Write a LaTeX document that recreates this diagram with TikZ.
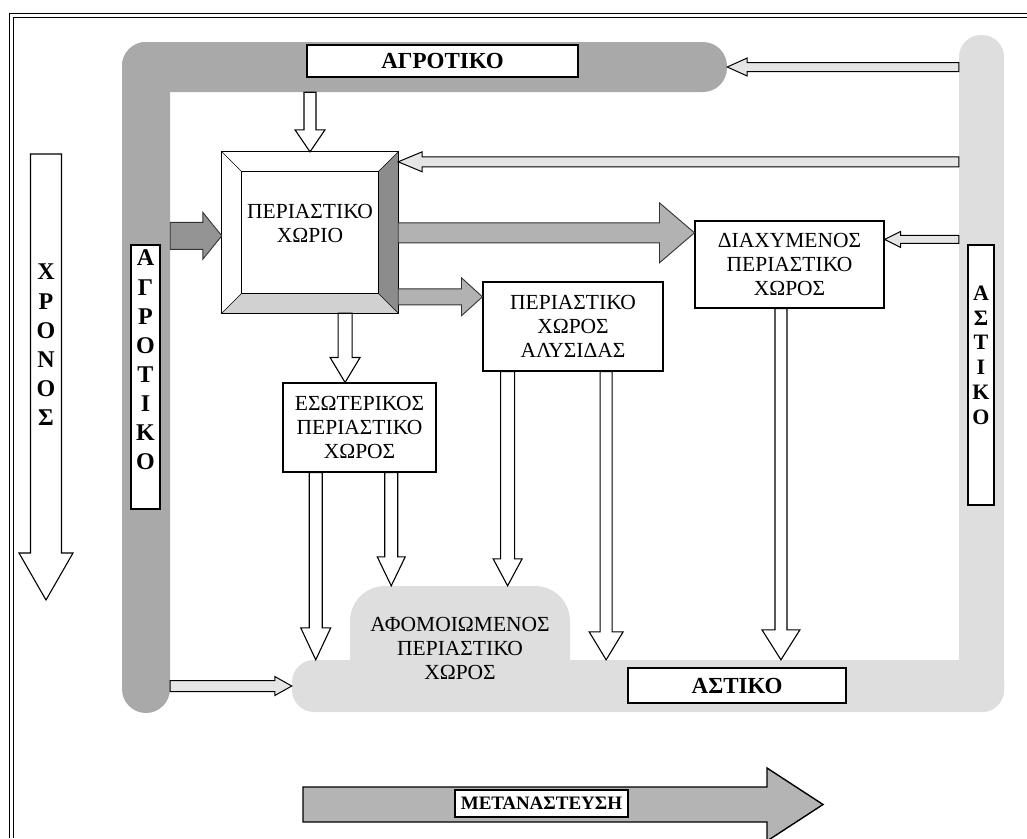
\documentclass[tikz,border=0pt]{standalone}
\usepackage{fontspec}
\setmainfont{Liberation Serif}
\usetikzlibrary{calc}
\definecolor{agrgray}{HTML}{A9A9A9}
\definecolor{astgray}{HTML}{DEDEDE}
\definecolor{arrgray}{HTML}{B4B4B4}
\newcommand{\boxfont}{\fontsize{21.5}{24}\selectfont}
\newcommand{\labfont}{\fontsize{23}{26}\selectfont\bfseries}
% block arrow: [style]{tail}{tip}{half shaft}{half head}{head length}
\newcommand{\blockarrow}[6][]{%
  \path (#2) coordinate (atail) (#3) coordinate (ahead);
  \path ($(ahead)!#6!(atail)$) coordinate (aneck);
  \draw[#1] ($(atail)!#4!90:(ahead)$) -- ($(aneck)!#4!90:(ahead)$) -- ($(aneck)!#5!90:(ahead)$)
    -- (ahead) -- ($(aneck)!#5!-90:(ahead)$) -- ($(aneck)!#4!-90:(ahead)$) -- ($(atail)!#4!-90:(ahead)$) -- cycle;}
\tikzset{
  box/.style={draw, fill=white, line width=1.1pt, inner sep=0pt, align=center, font=\boxfont},
  vletter/.style={font=\fontsize{24}{24}\selectfont\bfseries, inner sep=0pt},
  agrband/.style={fill=agrgray, rounded corners=24pt, inner sep=0pt},
  astband/.style={fill=astgray, rounded corners=22pt, inner sep=0pt},
  hollow/.style={draw, fill=white, line width=1.1pt},
  thickgray/.style={draw=black!80, fill=black!42, line width=0.9pt},
  thinarrow/.style={draw, fill=gray!20, line width=1pt},
  bigarrow/.style={draw, fill=arrgray, line width=1.4pt}
}
\begin{document}
\begin{tikzpicture}[x=1pt, y=-1pt]
\useasboundingbox (0,0) rectangle (1027,838);
\draw[line width=1pt] (9,838) -- (9,13) -- (1027,13);
\draw[line width=1pt] (13,838) -- (13,17) -- (1027,17);

% bands
\node[agrband, minimum width=605pt, minimum height=50pt] (agrbar) at (424.5,67) {};
\node[agrband, minimum width=48pt, minimum height=671pt] (agrleft) at (146,377.5) {};
\node[astband, minimum width=45pt, minimum height=677pt] (rbar) at (981.5,373.5) {};
\node[astband, minimum width=712pt, minimum height=52pt] (band) at (648,686) {};
\node[astband, rounded corners=35pt, minimum width=220pt, minimum height=124pt, font=\boxfont, align=center] (lobe) at (460,648) {ΑΦΟΜΟΙΩΜΕΝΟΣ\\ΠΕΡΙΑΣΤΙΚΟ\\ΧΩΡΟΣ};

\node[box, font=\labfont, minimum width=271pt, minimum height=32pt] (agrtop) at (442.5,61) {ΑΓΡΟΤΙΚΟ};
\node[box, font=\labfont, minimum width=218pt, minimum height=35pt] (astbot) at (737,685.5) {ΑΣΤΙΚΟ};
\node[box, minimum width=29pt, minimum height=264pt] (agrv) at (145.5,377) {};
\node[box, minimum width=26pt, minimum height=260pt] (astv) at (981,375) {};
\foreach \letr [count=\i from 0] in {Α,Γ,Ρ,Ο,Τ,Ι,Κ,Ο}
  \node[vletter] (agrl\i) at (145.5,{258+29.14*\i}) {\letr};
\foreach \letr [count=\i from 0] in {Α,Σ,Τ,Ι,Κ,Ο}
  \node[vletter, font=\fontsize{22}{22}\selectfont\bfseries] (astl\i) at (981,{293+24.8*\i}) {\letr};

% bevelled box
\node[fill=white, minimum width=176pt, minimum height=161pt, inner sep=0pt] (xorio) at (310,232.5) {};
\fill[black!45] (xorio.north east) -- (xorio.south east) -- ($(xorio.south east)+(-20,-20)$) -- ($(xorio.north east)+(-20,20)$) -- cycle;
\fill[black!18] (xorio.south east) -- (xorio.south west) -- ($(xorio.south west)+(20,-20)$) -- ($(xorio.south east)+(-20,-20)$) -- cycle;
\draw[line width=1.2pt] (xorio.north west) rectangle (xorio.south east);
\draw[line width=1pt] ($(xorio.north west)+(20,20)$) rectangle ($(xorio.south east)+(-20,-20)$);
\draw (xorio.north west) -- ++(20,20) (xorio.north east) -- ++(-20,20)
  (xorio.south west) -- ++(20,-20) (xorio.south east) -- ++(-20,-20);
\node[font=\boxfont, align=center] (xoriotxt) at ($(xorio)+(0,-9)$) {ΠΕΡΙΑΣΤΙΚΟ\\ΧΩΡΙΟ};

\node[box, minimum width=153pt, minimum height=89pt] (esot) at (359.5,427.5) {ΕΣΩΤΕΡΙΚΟΣ\\ΠΕΡΙΑΣΤΙΚΟ\\ΧΩΡΟΣ};
\node[box, minimum width=180pt, minimum height=89pt] (alys) at (573,326.5) {ΠΕΡΙΑΣΤΙΚΟ\\ΧΩΡΟΣ\\ΑΛΥΣΙΔΑΣ};
\node[box, minimum width=189pt, minimum height=87pt] (diax) at (789.5,264.5) {ΔΙΑΧΥΜΕΝΟΣ\\ΠΕΡΙΑΣΤΙΚΟ\\ΧΩΡΟΣ};

% free ends
\coordinate (rb2) at ($(rbar.west |- xorio.north)+(0,10)$);
\coordinate (rb3) at ($(rbar.west |- diax.north)+(0,19)$);
\coordinate (lb1) at ($(agrleft.east |- xorio.north)+(0,84)$);
\coordinate (lb2) at (agrleft.east |- band.west);
\coordinate (g1) at ($(xorio.north east)+(0,81)$);
\coordinate (g2) at ($(xorio.north east)+(0,145)$);
\coordinate (xo1) at ($(xorio.south west)!0.699!(xorio.south east)$);
\coordinate (e1) at ($(esot.south west)!0.216!(esot.south east)$);
\coordinate (e2) at ($(esot.south west)!0.706!(esot.south east)$);
\coordinate (a1) at ($(alys.south west)!0.139!(alys.south east)$);
\coordinate (a2) at ($(alys.south west)!0.683!(alys.south east)$);
\coordinate (d1) at ($(diax.south west)!0.455!(diax.south east)$);

\blockarrow[thinarrow]{agrbar.east -| rbar.west}{agrbar.east}{4.5pt}{9pt}{20pt}
\blockarrow[thinarrow]{rb2}{rb2 -| xorio.east}{5pt}{10pt}{24pt}
\blockarrow[thinarrow]{rb3}{rb3 -| diax.east}{4pt}{8pt}{16pt}
\blockarrow[thinarrow]{lb2}{band.west}{5.5pt}{9.5pt}{17pt}
\blockarrow[thickgray]{lb1}{lb1 -| xorio.west}{13.5pt}{23.5pt}{19pt}
\blockarrow[thickgray, fill=black!30]{g1}{g1 -| diax.west}{10pt}{30pt}{35pt}
\blockarrow[thickgray, fill=black!30]{g2}{g2 -| alys.west}{8pt}{19pt}{21pt}
\blockarrow[hollow]{agrbar.south -| xorio.north}{xorio.north}{6pt}{15pt}{22pt}
\blockarrow[hollow]{xo1}{xo1 |- esot.north}{7pt}{15pt}{25pt}
\blockarrow[hollow]{e1}{e1 |- band.north}{6.5pt}{15pt}{32pt}
\blockarrow[hollow]{e2}{e2 |- lobe.north}{6.5pt}{14pt}{29pt}
\blockarrow[hollow]{a1}{a1 |- lobe.north}{7pt}{14.5pt}{27pt}
\blockarrow[hollow]{a2}{a2 |- band.north}{6pt}{17pt}{28pt}
\blockarrow[hollow]{d1}{d1 |- band.north}{6pt}{19pt}{30pt}

% time arrow
\coordinate (xtop) at (46,154);
\coordinate (xtip) at (46,600);
\blockarrow[hollow]{xtop}{xtip}{15.5pt}{27pt}{47pt}
\foreach \letr [count=\i from 0] in {Χ,Ρ,Ο,Ν,Ο,Σ}
  \node[vletter] (xrl\i) at (46,{272+29.2*\i}) {\letr};

% migration arrow
\coordinate (mtail) at (303,804.5);
\coordinate (mtip) at (823,804.5);
\blockarrow[bigarrow]{mtail}{mtip}{17.5pt}{36.5pt}{56pt}
\node[box, font=\fontsize{19}{21}\selectfont\bfseries, minimum width=173pt, minimum height=27pt] (metan) at (541.5,803.5) {ΜΕΤΑΝΑΣΤΕΥΣΗ};
\end{tikzpicture}
\end{document}
